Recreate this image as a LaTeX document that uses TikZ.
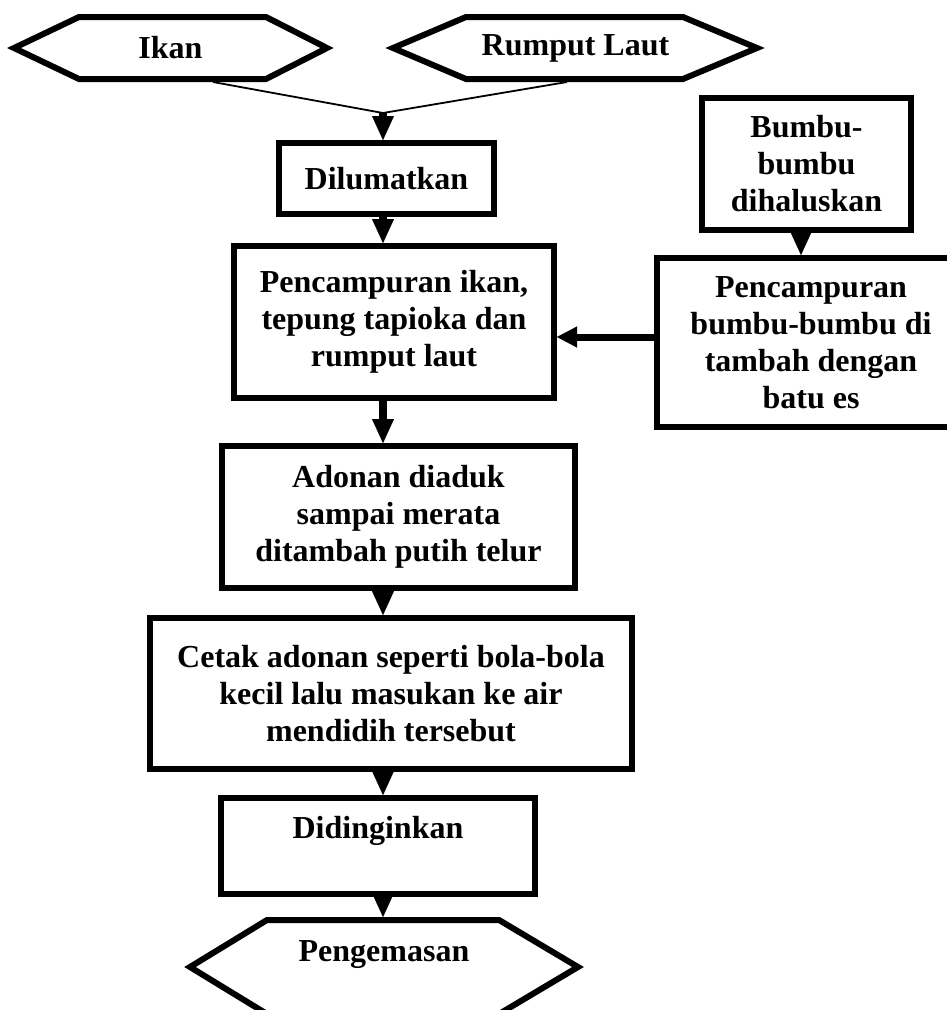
\documentclass[tikz,border=0pt]{standalone}
\usepackage{fontspec}
\setmainfont{Liberation Serif}
\usetikzlibrary{arrows.meta,calc}
\begin{document}
\begin{tikzpicture}[x=1pt,y=-1pt,
  txt/.style={font=\bfseries\fontsize{32}{37}\selectfont},
  box/.style={txt, draw, line width=6pt, inner sep=0pt, align=center},
  lbl/.style={txt, inner sep=0pt, align=center},
  hex/.style={draw, line width=6pt, line join=miter},
  ar/.style={line width=8pt, -{Triangle[length=24pt,width=22pt,line width=0.1pt]}},
  arh/.style={line width=7pt, -{Triangle[length=20pt,width=21pt,line width=0.1pt]}},
  thinline/.style={line width=1.8pt}]
\useasboundingbox (0,0) rectangle (947,1010);
\clip (0,0) rectangle (947,1010);
\fill[white] (0,0) rectangle (947,1010);

% helper coordinates
\coordinate (col) at (383,0);
\coordinate (col2) at (801,0);
\coordinate (row) at (0,337);

% top hexagons
\draw[hex] (14,48) -- (79,17) -- (266,17) -- (327,48) -- (266,79) -- (79,79) -- cycle;
\node[lbl] (ikan) at (170.5,48) {Ikan};
\draw[hex] (393,48) -- (466,17) -- (683,17) -- (757,48) -- (683,79) -- (466,79) -- cycle;
\node[lbl] (rumput) at (575.5,48) {Rumput Laut};
\coordinate (ikanb) at (213,82);
\coordinate (rumputb) at (567,82);
\coordinate (junc) at (383,113);

% boxes
\node[box, minimum width=215pt, minimum height=71pt] (dil) at (386.5,178.5) {Dilumatkan};
\node[box, minimum width=320pt, minimum height=152pt] (mix) at (394,322) {Pencampuran ikan,\\ tepung tapioka dan\\ rumput laut\\[-30pt]\mbox{}};
\node[box, minimum width=353pt, minimum height=142pt] (ado) at (398.5,517) {Adonan diaduk\\ sampai merata\\ ditambah putih telur};
\node[box, minimum width=482pt, minimum height=151pt] (cet) at (391,693.5) {Cetak adonan seperti bola-bola\\ kecil lalu masukan ke air\\ mendidih tersebut};
\node[box, minimum width=314pt, minimum height=96pt] (din) at (378,846) {Didinginkan\\ \mbox{}};
\node[box, minimum width=209pt, minimum height=132pt] (bum) at (806.5,164) {Bumbu-\\ bumbu\\ dihaluskan};
\node[box, minimum width=308pt, minimum height=169pt] (mixb) at (811,342.5) {Pencampuran\\ bumbu-bumbu di\\ tambah dengan\\ batu es};

% bottom hexagon
\draw[hex] (190,967) -- (267,920) -- (499,920) -- (578,967) -- (499,1014) -- (267,1014) -- cycle;
\node[lbl] (peng) at (384,955) {Pengemasan};
\coordinate (pengtop) at (383,917);

% connectors
\draw[thinline] (ikanb) -- (junc);
\draw[thinline] (rumputb) -- (junc);
\draw[ar] (junc) -- (dil.north -| col);
\draw[ar] (dil.south -| col) -- (mix.north -| col);
\draw[ar] (mix.south -| col) -- (ado.north -| col);
\draw[ar] (ado.south -| col) -- (cet.north -| col);
\draw[ar] (cet.south -| col) -- (din.north -| col);
\draw[ar] (din.south -| col) -- (pengtop);
\draw[ar] (bum.south -| col2) -- (mixb.north -| col2);
\draw[arh] (mixb.west |- row) -- (mix.east |- row);
\end{tikzpicture}
\end{document}
